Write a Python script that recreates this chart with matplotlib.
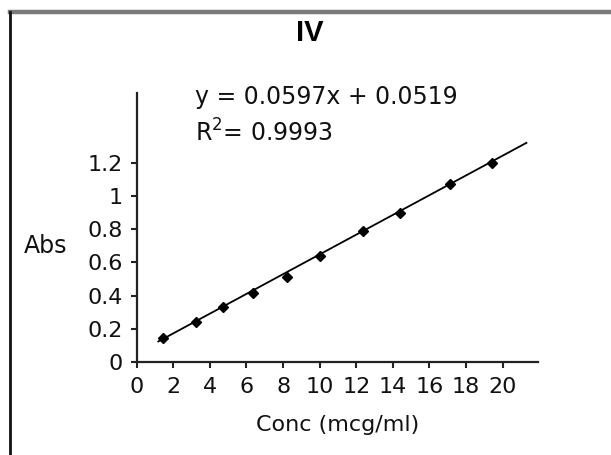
import matplotlib
matplotlib.use("Agg")
import matplotlib.pyplot as plt
from matplotlib.lines import Line2D
import numpy as np

plt.rcParams["font.family"] = ["DejaVu Sans"]

# Calibration data (concentration in mcg/ml, absorbance)
conc = [1.45, 3.24, 4.69, 6.37, 8.20, 10.02, 12.38, 14.39, 17.12, 19.43]
absorbance = [0.142, 0.242, 0.328, 0.414, 0.514, 0.641, 0.791, 0.901, 1.075, 1.200]

# Linear trendline reported on the chart
slope = 0.0597
intercept = 0.0519
r_squared = 0.9993
fit_range = [1.18, 21.3]

x_ticks = [0, 2, 4, 6, 8, 10, 12, 14, 16, 18, 20]
y_ticks = [0, 0.2, 0.4, 0.6, 0.8, 1.0, 1.2]
y_tick_labels = ["0", "0.2", "0.4", "0.6", "0.8", "1", "1.2"]

W, H = 611, 455
fig = plt.figure(figsize=(W / 100, H / 100), dpi=100)
ax = fig.add_axes([136.7 / W, 1 - 361.7 / H, (538.3 - 136.7) / W, (361.7 - 93) / H])

ax.plot(conc, absorbance, linestyle="none", marker="D", markersize=5.2,
        color="black", zorder=3)
fx = np.array(fit_range)
ax.plot(fx, slope * fx + intercept, color="black", linewidth=1.3, zorder=2)

ax.set_xlim(0, 21.95)
ax.set_ylim(0, 1.625)
ax.set_xticks(x_ticks)
ax.set_xticklabels([str(t) for t in x_ticks])
ax.set_yticks(y_ticks)
ax.set_yticklabels(y_tick_labels)

for side in ("top", "right"):
    ax.spines[side].set_visible(False)
for side in ("left", "bottom"):
    ax.spines[side].set_linewidth(1.6)
    ax.spines[side].set_color("#222222")
ax.tick_params(axis="both", direction="out", length=4, width=1.5,
               color="#222222", labelsize=16, labelcolor="#111111")
ax.tick_params(axis="x", pad=7)
ax.tick_params(axis="y", pad=6)

ax.set_xlabel("Conc (mcg/ml)", fontsize=16, color="#111111", labelpad=13)
fig.text(45.5 / W, 1 - 246 / H, "Abs", fontsize=17, color="#111111",
         ha="center", va="center")

fig.text(310 / W, 1 - 33 / H, "IV", fontsize=21, fontweight="bold",
         family="Liberation Sans", ha="center", va="center")

fig.text(195 / W, 1 - 97 / H, f"y = {slope}x + {intercept}", fontsize=17,
         color="#111111", ha="left", va="center")
fig.text(195 / W, 1 - 133 / H, f"R$^2$= {r_squared}", fontsize=17,
         color="#111111", ha="left", va="center")

# frame around the panel (cut off on the right and bottom)
fig.add_artist(Line2D([10 / W, 1.0], [1 - 12 / H, 1 - 12 / H],
                      color="#7a7a7a", linewidth=3.2))
fig.add_artist(Line2D([10 / W, 10 / W], [0.0, 1 - 12 / H],
                      color="#111111", linewidth=2.0))

fig.savefig("out.png", dpi=100)
